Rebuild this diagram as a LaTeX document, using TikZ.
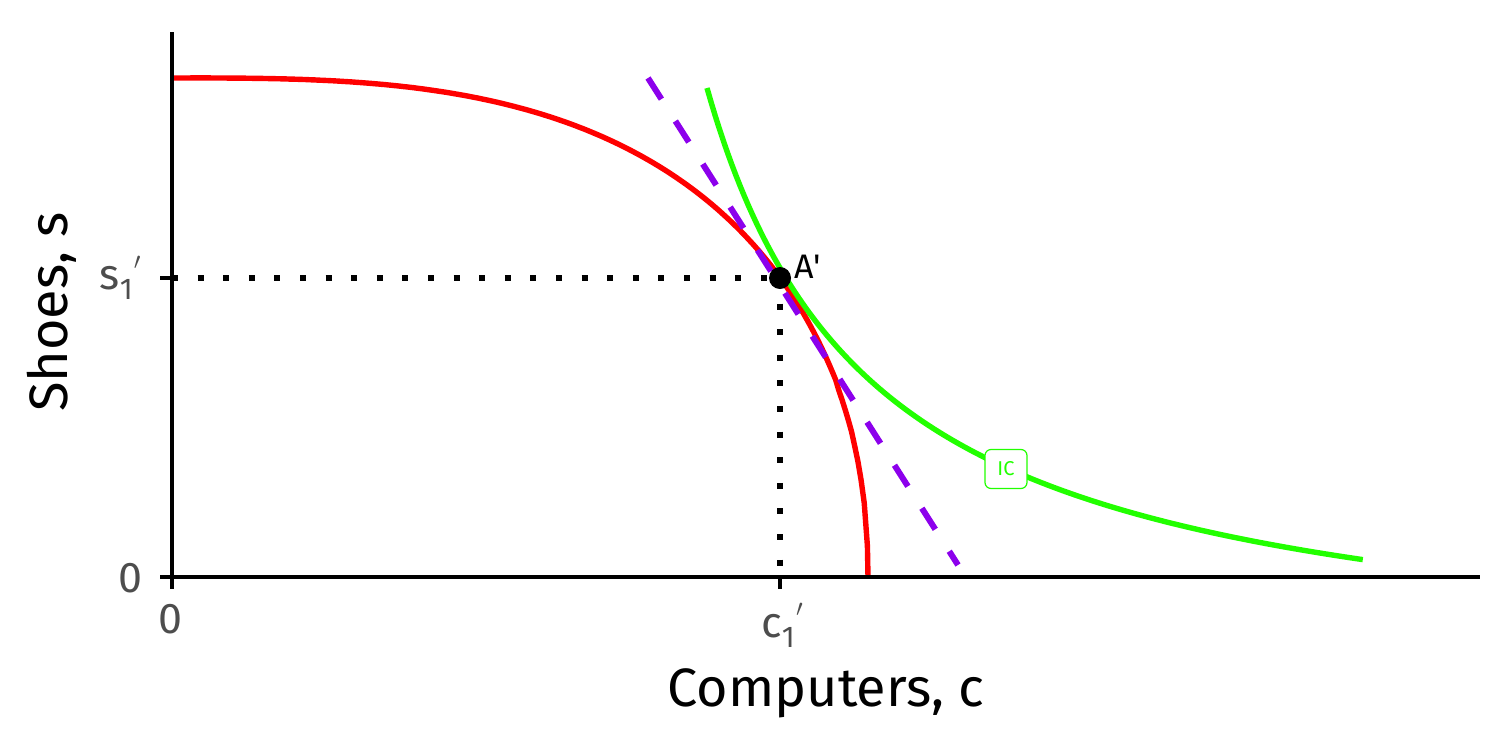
\documentclass[tikz,border=0pt]{standalone}
\usepackage{fontspec}
\setmainfont{Fira Sans}
\definecolor{ppfred}{RGB}{255,0,0}
\definecolor{icgreen}{RGB}{34,255,0}
\definecolor{tanpurple}{RGB}{140,0,236}
\definecolor{ticktext}{RGB}{77,77,77}
\newcommand{\subprime}[1]{#1\raisebox{-0.45ex}{\fontsize{15}{16}\selectfont 1}\kern0.6pt\raisebox{0.9ex}{\fontsize{12}{14}\selectfont$\prime$}}
\tikzset{
  axisline/.style={line width=2.2pt, black},
  tickline/.style={line width=2.2pt, black},
  ppf/.style={line width=2.7pt, ppfred, line join=round},
  icurve/.style={line width=2.7pt, icgreen, line join=round},
  tangent/.style={line width=3pt, tanpurple, dash pattern=on 12.5pt off 13pt},
  guide/.style={line width=3pt, black, dash pattern=on 3pt off 9.8pt},
  ticklabel/.style={font=\fontsize{21.5}{24}\selectfont, text=ticktext, inner sep=0pt},
  axistitle/.style={font=\fontsize{27}{30}\selectfont, text=black, inner sep=0pt},
  pointlabel/.style={font=\fontsize{17}{20}\selectfont, inner sep=0pt},
  curvelabel/.style={draw=icgreen, line width=0.6pt, rounded corners=3pt, fill=white,
     text=icgreen, font=\fontsize{10}{12}\selectfont, minimum width=21pt, minimum height=19.5pt, inner sep=0pt},
}
\begin{document}
\begin{tikzpicture}[x=0.5pt, y=-0.5pt]
\useasboundingbox (0,0) rectangle (1512,756);
% reference coordinates
\coordinate (origin) at (172,577);
\coordinate (ytop) at (172,32);
\coordinate (xend) at (1480,577);
\coordinate (sone) at (172,278);
\coordinate (cone) at (780,577);
\coordinate (ppfend) at (868,577);
\coordinate (tanA) at (648,78);
\coordinate (tanB) at (958,565);
% PPF (red)
\draw[ppf] plot[domain=0:0.9995, samples=220, variable=\t]
   ({172+696*\t},{577-499*(1-\t^3)^0.465}) -- (ppfend);
% indifference curve (green)
\draw[icurve] plot[domain=5.35:11.91, samples=160, variable=\u]
   ({172+100*\u},{577-(988.14/(\u-3.68)-102.7)});
% tangent (purple dashed)
\draw[tangent] (tanA) -- (tanB);
% guides
\node[circle, fill=black, minimum size=11pt, inner sep=0pt] (A) at (780,278) {};
\draw[guide] (sone) -- (A.center);
\draw[guide] (A.center) -- (cone);
% axes
\draw[axisline] (ytop) -- (origin);
\draw[axisline] (origin) -- (xend);
\draw[tickline] (160,278) -- (sone);
\draw[tickline] (160,577) -- (origin);
\draw[tickline] (origin) -- (172,589);
\draw[tickline] (cone) -- (780,589);
% labels
\node[pointlabel, anchor=west] (Alab) at (794,267) {A\textquotesingle};
\node[curvelabel] (IClab) at (1006,469) {IC};
\node[ticklabel, anchor=east] (y0) at (143,578) {0};
\node[ticklabel, anchor=east] (ys) at (141,278) {\subprime{s}};
\node[ticklabel, anchor=north] (x0) at (170,604) {0};
\node[ticklabel, anchor=north] (xc) at (782,603) {\subprime{c}};
\node[axistitle] (xtitle) at (826,693) {Computers, c};
\node[axistitle, rotate=90] (ytitle) at (52,312) {Shoes, s};
\end{tikzpicture}
\end{document}
